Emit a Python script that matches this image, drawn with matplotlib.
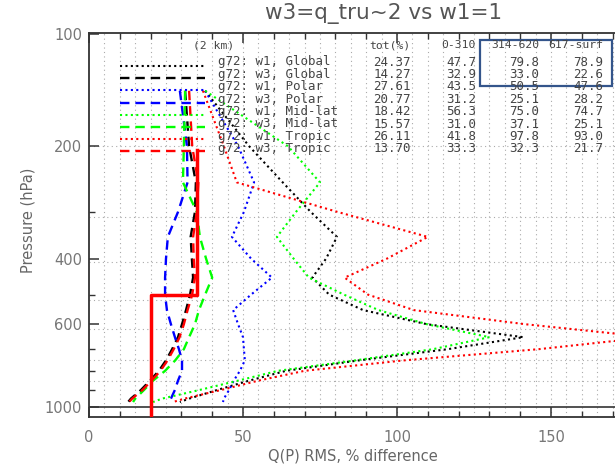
import numpy as np
import matplotlib
matplotlib.use("Agg")
import matplotlib.pyplot as plt
from matplotlib.ticker import FixedLocator, NullFormatter, MultipleLocator
from matplotlib.patches import Rectangle

# pressure levels (hPa) and RMS % difference profiles
levels = [142, 200, 250, 300, 350, 400, 450, 500, 550, 600, 650, 700, 750, 800, 850, 900, 950, 970]
glob_w1 = [37.7, 52.0, 62.9, 72.0, 80.5, 77.0, 72.5, 78.0, 89.0, 109.7, 141.0, 116.5, 87.7, 64.0, 52.0, 41.7, 32.5, 29.5]
glob_w3 = [31.2, 32.5, 34.7, 34.4, 33.0, 33.4, 33.8, 32.8, 31.5, 30.2, 28.9, 27.0, 25.0, 22.7, 19.8, 16.9, 13.6, 12.7]
polar_w1 = [37.7, 48.4, 53.6, 50.3, 46.4, 52.6, 59.4, 52.6, 46.8, 48.4, 50.0, 50.3, 50.6, 49.0, 47.0, 45.5, 43.8, 43.5]
polar_w3 = [29.5, 31.8, 32.0, 28.9, 25.6, 25.0, 24.7, 24.7, 25.3, 26.6, 27.9, 29.2, 30.2, 30.2, 28.9, 27.9, 26.6, 26.3]
mid_w1 = [37.7, 64.6, 75.0, 67.2, 61.0, 66.4, 71.4, 82.8, 94.0, 109.7, 130.0, 111.7, 86.5, 61.4, 48.4, 36.0, 23.7, 20.8]
mid_w3 = [31.2, 30.8, 30.5, 35.0, 36.0, 38.0, 40.0, 37.7, 35.7, 34.4, 32.5, 30.8, 28.0, 24.7, 20.8, 17.9, 15.0, 14.3]
trop_w1 = [37.0, 43.8, 48.0, 80.7, 110.0, 96.8, 83.0, 90.6, 105.5, 141.6, 182.0, 146.0, 102.4, 70.0, 55.0, 43.0, 31.0, 27.3]
trop_w3 = [32.5, 33.5, 35.5, 35.0, 33.8, 34.0, 34.4, 33.5, 32.0, 30.8, 29.4, 27.5, 25.5, 23.2, 20.3, 17.4, 14.0, 13.0]

# requirement step line
req_x = [20, 20, 35, 35]
req_p = [1100, 500, 500, 205]

# table
labels = ["g72: w1, Global", "g72: w3, Global", "g72: w1, Polar", "g72: w3, Polar",
          "g72: w1, Mid-lat", "g72: w3, Mid-lat", "g72: w1, Tropic", "g72: w3, Tropic"]
tot = ["24.37", "14.27", "27.61", "20.77", "18.42", "15.57", "26.11", "13.70"]
col_0_310 = ["47.7", "32.9", "43.5", "31.2", "56.3", "31.0", "41.8", "33.3"]
col_314_620 = ["79.8", "33.0", "50.5", "25.1", "75.0", "37.1", "97.8", "32.3"]
col_617_surf = ["78.9", "22.6", "47.6", "28.2", "74.7", "25.1", "93.0", "21.7"]
headers = ["tot(%)", "0-310", "314-620", "617-surf"]

W, H = 615, 469
def fx(px):
    return px / W
def fy(py):
    return 1 - py / H

fig = plt.figure(figsize=(W / 100, H / 100), dpi=100)
ax = fig.add_axes([fx(89), fy(417), (705 - 89) / W, (417 - 33) / H])

dot = (0, (1, 1.6))
dash = (0, (4, 2.5))
series = [(glob_w1, "black", dot), (glob_w3, "black", dash),
          (polar_w1, "blue", dot), (polar_w3, "blue", dash),
          (mid_w1, "#00ff00", dot), (mid_w3, "#00ff00", dash),
          (trop_w1, "red", dot), (trop_w3, "red", dash)]

# grid
for x in range(5, 200, 5):
    ax.axvline(x, color="#aaaaaa", ls=(0, (1, 3)), lw=0.8, zorder=0)
for p in [200, 310, 408, 517, 617, 750, 852]:
    ax.axhline(p, color="#aaaaaa", ls=(0, (1, 3)), lw=0.8, zorder=0)
ax.axhline(1000, color="#333333", lw=1.2, zorder=1)

for vals, c, ls in series:
    lw = 1.5 if ls is dot else 1.7
    ax.plot(vals, levels, color=c, ls=ls, lw=lw, zorder=2)

ax.plot(req_x, req_p, color="red", lw=2.5, zorder=3)

ax.set_yscale("log")
ax.set_ylim(1064, 99.4)
ax.set_xlim(0, 200)
ax.set_yticks([100, 200, 400, 600, 1000])
ax.set_yticklabels(["100", "200", "400", "600", "1000"])
ax.yaxis.set_minor_locator(FixedLocator([300, 500, 700, 800, 900]))
ax.yaxis.set_minor_formatter(NullFormatter())
ax.set_xticks([0, 50, 100, 150])
ax.xaxis.set_minor_locator(MultipleLocator(10))
ax.tick_params(which="both", direction="in", top=True, right=False, color="#333333",
               labelcolor="#777777", labelsize=10.5)
ax.tick_params(which="major", length=7, width=1.1)
ax.tick_params(which="minor", length=4, width=1.0)
ax.tick_params(axis="x", pad=9)
ax.tick_params(axis="y", pad=5)
for s in ax.spines.values():
    s.set_color("#333333")
    s.set_linewidth(1.3)

fig.text(fx(384), fy(14), "w3=q_tru~2 vs w1=1", ha="center", va="center",
         fontsize=15.5, color="#555555")
fig.text(fx(28), fy(220), "Pressure (hPa)", rotation=90, ha="center", va="center",
         fontsize=10.5, color="#666666")
fig.text(fx(353), fy(456), "Q(P) RMS, % difference", ha="center", va="center",
         fontsize=10.5, color="#666666")

# legend table
mono = dict(family="DejaVu Sans Mono", fontsize=9, color="#444444", va="center")
head = dict(mono, fontsize=8.2)
fig.text(fx(193), fy(45), "(2 km)", ha="left", **head)
col_right = [411, 476, 539, 603]
for h, xr in zip(headers, col_right):
    fig.text(fx(xr), fy(45), h, ha="right", **head)
for i, (vals, c, ls) in enumerate(series):
    ty = 62 + 12.4 * i
    ly = 66 + 12.2 * i
    lw = 1.5 if ls is dot else 1.7
    ax.plot([fx(120), fx(205)], [fy(ly), fy(ly)], color=c, ls=ls, lw=lw,
            transform=fig.transFigure, clip_on=False, zorder=4)
    fig.text(fx(218), fy(ty), labels[i], ha="left", **mono)
    cols = [tot[i], col_0_310[i], col_314_620[i], col_617_surf[i]]
    for v, xr in zip(cols, col_right):
        fig.text(fx(xr), fy(ty), v, ha="right", **mono)

fig.add_artist(Rectangle((fx(480), fy(86)), fx(612) - fx(480), fy(40) - fy(86),
                         transform=fig.transFigure, fill=False, edgecolor="#34558b", lw=1.6))

fig.savefig("out.png", dpi=100)
